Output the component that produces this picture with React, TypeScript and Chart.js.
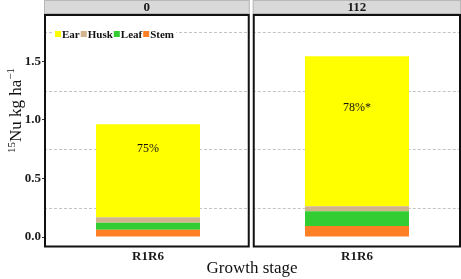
import React, { useEffect, useRef } from "react";
import { Chart, registerables } from "chart.js";

Chart.register(...registerables);

// ---- data ----
const panels = ["0", "112"];
const stages = ["R1R6", "R1R6"];
const stem = [0.063, 0.094];
const leaf = [0.06, 0.126];
const husk = [0.045, 0.042];
const ear = [0.795, 1.282];
const earShare = ["75%", "78%*"];
const shareLabelY = [0.75, 1.1];
const yTicks = [0, 0.5, 1.0, 1.5];
const yMinorGrid = [0.25, 0.75, 1.25, 1.75];
const legendOrder = ["Ear", "Husk", "Leaf", "Stem"];

const COLORS: Record<string, string> = {
  Ear: "#FFFF00",
  Husk: "#D2B48C",
  Leaf: "#32CD32",
  Stem: "#FF7F24",
};

const SERIF = "'Liberation Serif', 'Times New Roman', serif";

function panelBoxes(chart: any) {
  const { chartArea, scales } = chart;
  const gap = scales.x.getPixelForValue(0.494);
  return [
    { l: chartArea.left, r: gap - 1.5 },
    { l: gap + 1.5, r: chartArea.right },
  ];
}

const facetPlugin = {
  id: "facet",
  beforeDatasetsDraw(chart: any) {
    const { ctx, scales } = chart;
    const y = scales.y;
    const boxes = panelBoxes(chart);
    ctx.save();
    boxes.forEach((b) => {
      ctx.fillStyle = "#d9d9d9";
      ctx.fillRect(b.l, 0, b.r - b.l, 14);
      ctx.strokeStyle = "#b8b8b8";
      ctx.lineWidth = 1;
      ctx.strokeRect(b.l + 0.5, 0.5, b.r - b.l - 1, 13);
    });
    ctx.setLineDash([3, 2]);
    ctx.strokeStyle = "#c4c4c4";
    ctx.lineWidth = 1;
    boxes.forEach((b) => {
      yMinorGrid.forEach((v) => {
        const py = Math.round(y.getPixelForValue(v)) + 0.5;
        ctx.beginPath();
        ctx.moveTo(b.l, py);
        ctx.lineTo(b.r, py);
        ctx.stroke();
      });
    });
    ctx.restore();
  },
  afterDatasetsDraw(chart: any) {
    const { ctx, chartArea, scales } = chart;
    const x = scales.x;
    const y = scales.y;
    const boxes = panelBoxes(chart);
    ctx.save();
    // panel borders
    ctx.strokeStyle = "#111";
    ctx.lineWidth = 2;
    boxes.forEach((b) => {
      ctx.strokeRect(b.l + 1, chartArea.top, b.r - b.l - 2, chartArea.bottom - chartArea.top - 0.5);
    });
    // strip text
    ctx.fillStyle = "#1a1a1a";
    ctx.font = `bold 13px ${SERIF}`;
    ctx.textAlign = "center";
    ctx.textBaseline = "middle";
    boxes.forEach((b, i) => {
      ctx.fillText(panels[i], (b.l + b.r) / 2, 8);
    });
    // ear share labels
    ctx.font = `12px ${SERIF}`;
    ctx.fillStyle = "#111";
    earShare.forEach((t, i) => {
      ctx.fillText(t, x.getPixelForValue(i), y.getPixelForValue(shareLabelY[i]));
    });
    // legend
    const lx0 = boxes[0].l + 11;
    const ly = 31;
    ctx.font = `bold 11px ${SERIF}`;
    let total = 0;
    legendOrder.forEach((n) => {
      total += 6 + 1 + ctx.measureText(n).width + 1;
    });
    ctx.fillStyle = "#ffffff";
    ctx.fillRect(lx0 - 3, ly - 4, total + 4, 14);
    let cx = lx0;
    ctx.textAlign = "left";
    ctx.textBaseline = "alphabetic";
    legendOrder.forEach((n) => {
      ctx.fillStyle = COLORS[n];
      ctx.fillRect(cx, ly, 6, 6);
      cx += 7;
      ctx.fillStyle = "#111";
      ctx.fillText(n, cx, ly + 6.5);
      cx += ctx.measureText(n).width + 1;
    });
    // x title
    ctx.font = `17px ${SERIF}`;
    ctx.textAlign = "center";
    ctx.fillStyle = "#111";
    ctx.fillText("Growth stage", 252, 273);
    // y title with superscripts
    ctx.translate(21, 110.5);
    ctx.rotate(-Math.PI / 2);
    const big = `17px ${SERIF}`;
    const small = `11px ${SERIF}`;
    const parts = [
      { t: "15", f: small, dy: -6 },
      { t: "Nu kg ha", f: big, dy: 0 },
      { t: "\u22121", f: small, dy: -7 },
    ];
    let w = 0;
    parts.forEach((p) => {
      ctx.font = p.f;
      w += ctx.measureText(p.t).width;
    });
    let px = -w / 2;
    ctx.textAlign = "left";
    parts.forEach((p) => {
      ctx.font = p.f;
      ctx.fillText(p.t, px, p.dy);
      px += ctx.measureText(p.t).width;
    });
    ctx.restore();
  },
};

export default function App() {
  const ref = useRef<HTMLCanvasElement | null>(null);
  useEffect(() => {
    if (!ref.current) return;
    const mk = (arr: number[]) => arr.map((v, i) => ({ x: i, y: v }));
    const common = { barPercentage: 0.4976, categoryPercentage: 1, borderWidth: 0 };
    const chart = new Chart(ref.current, {
      type: "bar",
      data: {
        datasets: [
          { label: "Stem", data: mk(stem), backgroundColor: COLORS.Stem, ...common },
          { label: "Leaf", data: mk(leaf), backgroundColor: COLORS.Leaf, ...common },
          { label: "Husk", data: mk(husk), backgroundColor: COLORS.Husk, ...common },
          { label: "Ear", data: mk(ear), backgroundColor: COLORS.Ear, ...common },
        ] as any,
      },
      options: {
        animation: false,
        responsive: false,
        events: [],
        layout: { padding: { top: 15, right: 0, left: 0, bottom: 0 } },
        plugins: { legend: { display: false }, tooltip: { enabled: false } },
        scales: {
          x: {
            type: "linear",
            stacked: true,
            offset: false,
            bounds: "data",
            min: -0.4976,
            max: 1.4976,
            grid: { display: false, drawTicks: false, offset: false },
            border: { display: false },
            afterBuildTicks: (s: any) => {
              s.ticks = stages.map((_, i) => ({ value: i }));
            },
            afterFit: (s: any) => {
              s.height = 32;
            },
            ticks: {
              autoSkip: false,
              maxRotation: 0,
              padding: 2,
              color: "#1a1a1a",
              font: { family: SERIF, size: 13, weight: "bold" },
              callback: (v: any) => stages[Number(v)] ?? "",
            },
          },
          y: {
            stacked: true,
            min: -0.085,
            max: 1.895,
            grid: { display: true, drawOnChartArea: false, drawTicks: true, tickLength: 2, color: "#333" },
            border: { display: false },
            afterBuildTicks: (s: any) => {
              s.ticks = yTicks.map((v) => ({ value: v }));
            },
            afterFit: (s: any) => {
              s.width = 44;
            },
            ticks: {
              padding: 1,
              color: "#1a1a1a",
              font: { family: SERIF, size: 13, weight: "bold" },
              callback: (v: any) => Number(v).toFixed(1),
            },
          },
        },
      } as any,
      plugins: [facetPlugin],
    });
    return () => chart.destroy();
  }, []);
  return (
    <div style={{ position: "fixed", left: 0, top: 0, width: 461, height: 279, background: "#fff" }}>
      <canvas ref={ref} width={461} height={279} />
    </div>
  );
}
